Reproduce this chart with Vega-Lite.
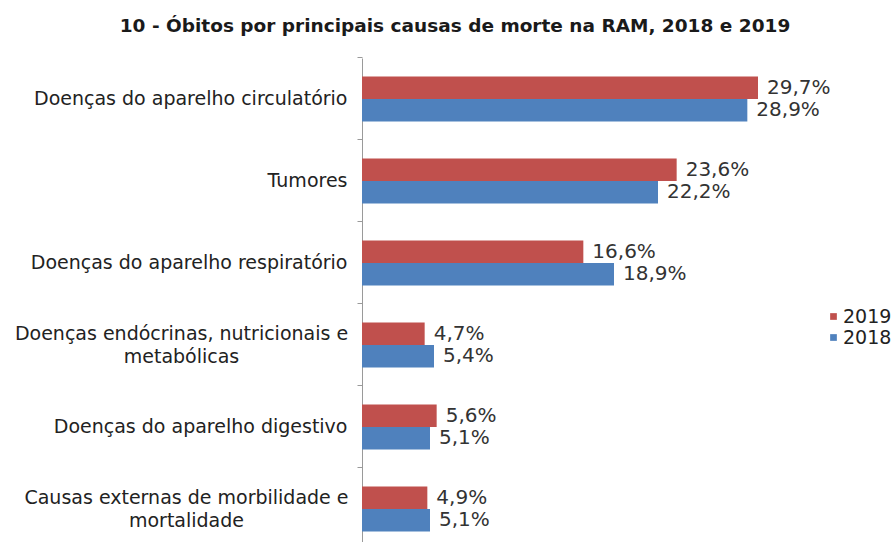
{
  "$schema": "https://vega.github.io/schema/vega-lite/v6.json",
  "width": 400,
  "height": 484,
  "autosize": {"type": "none"},
  "padding": {"left": 362, "top": 58, "right": 133, "bottom": 0},
  "background": "white",
  "title": {
    "text": "10 - Óbitos por principais causas de morte na RAM, 2018 e 2019",
    "font": "DejaVu Sans",
    "fontSize": 18.5,
    "fontWeight": "bold",
    "color": "#1a1a1a",
    "anchor": "middle",
    "dx": -107,
    "offset": 21
  },
  "data": {
    "values": [
      {"causa": "Doenças do aparelho circulatório", "ano": "2019", "valor": 29.7},
      {"causa": "Doenças do aparelho circulatório", "ano": "2018", "valor": 28.9},
      {"causa": "Tumores", "ano": "2019", "valor": 23.6},
      {"causa": "Tumores", "ano": "2018", "valor": 22.2},
      {"causa": "Doenças do aparelho respiratório", "ano": "2019", "valor": 16.6},
      {"causa": "Doenças do aparelho respiratório", "ano": "2018", "valor": 18.9},
      {"causa": "Doenças endócrinas, nutricionais e|metabólicas", "ano": "2019", "valor": 4.7},
      {"causa": "Doenças endócrinas, nutricionais e|metabólicas", "ano": "2018", "valor": 5.4},
      {"causa": "Doenças do aparelho digestivo", "ano": "2019", "valor": 5.6},
      {"causa": "Doenças do aparelho digestivo", "ano": "2018", "valor": 5.1},
      {"causa": "Causas externas de morbilidade e|mortalidade", "ano": "2019", "valor": 4.9},
      {"causa": "Causas externas de morbilidade e|mortalidade", "ano": "2018", "valor": 5.1}
    ]
  },
  "transform": [
    {"calculate": "replace(format(datum.valor, '.1f'), '.', ',') + '%'", "as": "rotulo"}
  ],
  "encoding": {
    "y": {
      "field": "causa",
      "type": "nominal",
      "sort": null,
      "scale": {"range": [0, 492], "paddingInner": 0.451, "paddingOuter": 0.2255},
      "axis": {
        "title": null,
        "labelExpr": "split(datum.label, '|')",
        "labelFont": "DejaVu Sans",
        "labelFontSize": 19,
        "labelColor": "#222222",
        "labelLimit": 500,
        "labelLineHeight": 23,
        "tickSize": 5,
        "tickColor": "#9a9a9a",
        "domainColor": "#9a9a9a",
        "bandPosition": -0.411,
        "labelAlign": {
          "condition": {"test": "indexof(datum.value, '|') >= 0", "value": "center"},
          "value": "right"
        },
        "labelPadding": {
          "condition": [
            {"test": "indexof(datum.value, 'endócrinas') >= 0", "value": 176},
            {"test": "indexof(datum.value, 'externas') >= 0", "value": 171}
          ],
          "value": 10
        },
        "labelOffset": {
          "condition": {"test": "indexof(datum.value, '|') >= 0", "value": -11},
          "value": 0
        }
      }
    },
    "yOffset": {
      "field": "ano",
      "type": "nominal",
      "sort": ["2019", "2018"],
      "scale": {"paddingInner": 0, "paddingOuter": 0}
    },
    "x": {
      "field": "valor",
      "type": "quantitative",
      "scale": {"domain": [0, 30], "nice": false},
      "axis": null
    }
  },
  "layer": [
    {
      "mark": {"type": "bar"},
      "encoding": {
        "color": {
          "field": "ano",
          "type": "nominal",
          "scale": {"domain": ["2019", "2018"], "range": ["#C0504D", "#4F81BD"]},
          "legend": {
            "title": null,
            "orient": "none",
            "legendX": 462,
            "legendY": 249,
            "padding": 0,
            "symbolType": "square",
            "symbolSize": 45,
            "symbolStrokeWidth": 0,
            "labelFont": "DejaVu Sans",
            "labelFontSize": 19,
            "labelColor": "#222222",
            "labelOffset": 0,
            "rowPadding": 1
          }
        }
      }
    },
    {
      "mark": {"type": "text", "align": "left", "baseline": "middle", "dx": 9, "font": "DejaVu Sans", "fontSize": 20, "color": "#333333"},
      "encoding": {
        "text": {"field": "rotulo"}
      }
    }
  ],
  "config": {
    "view": {"stroke": null}
  }
}
